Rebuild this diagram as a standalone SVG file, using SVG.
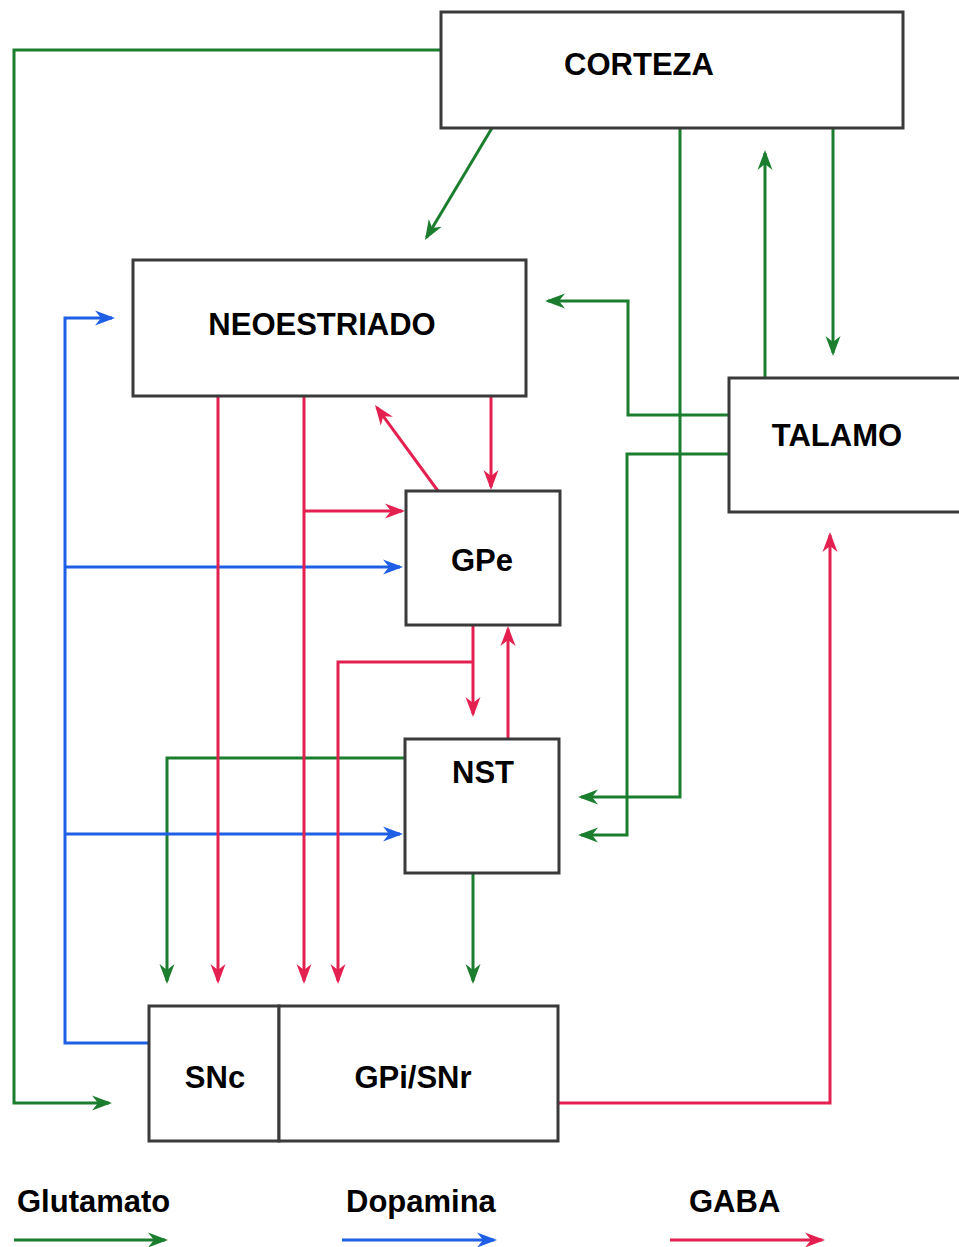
<svg xmlns="http://www.w3.org/2000/svg" width="959" height="1247" viewBox="0 0 959 1247">
<style>
.box{fill:#fff;stroke:#3a3a3a;stroke-width:3}
.lbl{font-family:"Liberation Sans",Arial,sans-serif;font-weight:bold;font-size:31px;fill:#000}
.c{text-anchor:middle}
.g,.b,.r{fill:none;stroke-width:3;stroke-linejoin:miter}
.g{stroke:#1b7d2e;marker-end:url(#ag)}
.b{stroke:#1f5fe6;marker-end:url(#ab)}
.r{stroke:#e3204f;marker-end:url(#ar)}
</style>
<defs>
<marker id="ag" markerUnits="userSpaceOnUse" markerWidth="20" markerHeight="16" refX="17" refY="8" orient="auto"><path d="M0,0.5 L20,8 L0,15.5 L6,8 z" fill="#1b7d2e"/></marker>
<marker id="ab" markerUnits="userSpaceOnUse" markerWidth="20" markerHeight="16" refX="17" refY="8" orient="auto"><path d="M0,0.5 L20,8 L0,15.5 L6,8 z" fill="#1f5fe6"/></marker>
<marker id="ar" markerUnits="userSpaceOnUse" markerWidth="20" markerHeight="16" refX="17" refY="8" orient="auto"><path d="M0,0.5 L20,8 L0,15.5 L6,8 z" fill="#e3204f"/></marker>
</defs>
<rect width="959" height="1247" fill="#fff"/>
<g id="connectors">
<path class="g" d="M441,50 H14 V1103 H109"/>
<path class="g" d="M492,128 L426.5,237.4"/>
<path class="g" d="M680,128 V797 H581"/>
<path class="g" d="M729,454 H627 V835 H581"/>
<path class="g" d="M729,415 H628 V301 H548"/>
<path class="g" d="M765,378 V153"/>
<path class="g" d="M833,128 V353"/>
<path class="g" d="M405,758 H167 V981"/>
<path class="g" d="M473,873 V981"/>
<path class="b" d="M149,1043 H65 V318 H112"/>
<path class="b" d="M65,567 H400"/>
<path class="b" d="M65,834 H400"/>
<path class="r" d="M218,396 V981"/>
<path class="r" d="M304,396 V981"/>
<path class="r" d="M304,511 H402"/>
<path class="r" d="M438,491 L376.8,407.4"/>
<path class="r" d="M491,396 V487"/>
<path class="r" d="M473,625 V714"/>
<path class="r" d="M473,662 H338 V981"/>
<path class="r" d="M508,739 V629"/>
<path class="r" d="M558,1103 H830 V535"/>
</g>
<g id="corteza"><rect class="box" x="441" y="12" width="462" height="116"/><text class="lbl c" x="639" y="75">CORTEZA</text></g>
<g id="neoestriado"><rect class="box" x="133" y="260" width="393" height="136"/><text class="lbl c" x="322" y="335">NEOESTRIADO</text></g>
<g id="talamo"><rect class="box" x="729" y="378" width="232" height="134"/><text class="lbl c" x="837" y="446">TALAMO</text></g>
<g id="gpe"><rect class="box" x="406" y="491" width="154" height="134"/><text class="lbl c" x="482" y="571">GPe</text></g>
<g id="nst"><rect class="box" x="405" y="739" width="154" height="134"/><text class="lbl c" x="483" y="783">NST</text></g>
<g id="snc"><rect class="box" x="149" y="1006" width="130" height="135"/><text class="lbl c" x="215" y="1088">SNc</text></g>
<g id="gpisnr"><rect class="box" x="279" y="1006" width="279" height="135"/><text class="lbl c" x="413" y="1088">GPi/SNr</text></g>
<g id="legend">
<text class="lbl" x="17" y="1212">Glutamato</text>
<path class="g" d="M14,1240 H165"/>
<text class="lbl" x="346" y="1212">Dopamina</text>
<path class="b" d="M342,1240 H494"/>
<text class="lbl" x="689" y="1212">GABA</text>
<path class="r" d="M670,1240 H822"/>
</g>
</svg>
